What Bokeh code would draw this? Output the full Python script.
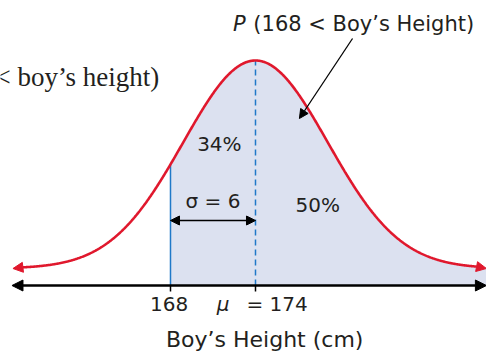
import numpy as np
from bokeh.plotting import figure
from bokeh.models import Arrow, NormalHead, Range1d
from bokeh.core.properties import value
from bokeh.embed import file_html
from bokeh.resources import INLINE

# ---- data -------------------------------------------------------------
mu = 174                 # mean height (cm)
sigma = 6                # standard deviation (cm)
lower_bound = 168        # P(168 < height)
curve_spread = 5.1       # drawn spread of the schematic bell (cm)
curve_peak = 208         # drawn peak height of the bell (px units)
curve_base = 17          # the bell's asymptote sits above the axis
x_start, x_end = 156.88, 190.3
tick_values = [168, 174]
tick_labels = ["168", "= 174"]
pct_values = ["34%", "50%"]
title_text = "(168 < Boy\u2019s Height)"
side_text = "P(168 < boy\u2019s height)"
axis_title = "Boy\u2019s Height (cm)"

RED = "#e0182d"
BLUE = "#1f78c8"
FILL = "#dce1f0"
INK = "#231f20"
FONT = value("DejaVu Sans")
DY = 9  # baseline correction for SVG text


def bell(x):
    return curve_base + curve_peak * np.exp(-((x - mu) ** 2) / (2 * curve_spread ** 2))


p = figure(width=486, height=355, output_backend="svg", toolbar_location=None,
           x_range=Range1d(156.0, 190.306), y_range=Range1d(-70, 285),
           min_border=0, outline_line_color=None, background_fill_color="white")
p.axis.visible = False
p.grid.visible = False

# shaded area P(168 < height)
xs_fill = np.linspace(lower_bound, x_end + 0.01, 400)
p.varea(x=xs_fill, y1=0, y2=bell(xs_fill), fill_color=FILL)

# vertical lines
p.segment(x0=[lower_bound], y0=[0], x1=[lower_bound], y1=[bell(lower_bound)],
          line_color=BLUE, line_width=1.5)
p.segment(x0=[mu], y0=[0], x1=[mu], y1=[bell(mu)],
          line_color=BLUE, line_width=1.5, line_dash="6 4")

# red bell curve with arrow ends
xs_c = np.linspace(x_start + 0.7, x_end - 0.7, 800)
p.line(xs_c, bell(xs_c), line_color=RED, line_width=2.6)
for xa, xb in [(xs_c[0], x_start), (xs_c[-1], x_end)]:
    p.add_layout(Arrow(end=NormalHead(size=10, fill_color=RED, line_color=RED),
                       x_start=xa, y_start=bell(xa), x_end=xb, y_end=curve_base,
                       line_color=RED, line_width=2.6))

# horizontal axis with arrows at both ends
p.add_layout(Arrow(start=NormalHead(size=11, fill_color="black", line_color="black"),
                   end=NormalHead(size=11, fill_color="black", line_color="black"),
                   x_start=x_start - 0.07, y_start=0, x_end=x_end, y_end=0,
                   line_color="black", line_width=2.6))
p.segment(x0=tick_values, y0=[0, 0], x1=tick_values, y1=[-6, -6],
          line_color="black", line_width=1.5)

# sigma double arrow
p.add_layout(Arrow(start=NormalHead(size=9, fill_color="black", line_color="black"),
                   end=NormalHead(size=9, fill_color="black", line_color="black"),
                   x_start=lower_bound, y_start=65, x_end=mu, y_end=65,
                   line_color="black", line_width=1.5))
p.text(x=[(lower_bound + mu) / 2], y=[76 + DY], text=["\u03c3 = 6"], text_font=FONT,
       text_font_size="20px", text_align="center", text_baseline="alphabetic",
       text_color=INK)

# percentage labels
p.text(x=[171.45, 178.4], y=[133 + DY, 72 + DY], text=pct_values, text_font=FONT,
       text_font_size="20px", text_align="center", text_baseline="alphabetic",
       text_color=INK)

# tick labels
p.text(x=[tick_values[0] - 0.1], y=[-27 + DY], text=[tick_labels[0]], text_font=FONT,
       text_font_size="20px", text_align="center", text_baseline="alphabetic",
       text_color=INK)
p.text(x=[mu - 2.28], y=[-27 + DY], text=["\u03bc"], text_font=FONT, text_font_style="italic",
       text_font_size="20px", text_align="center", text_baseline="alphabetic",
       text_color=INK)
p.text(x=[mu - 0.64], y=[-27 + DY], text=[tick_labels[1]], text_font=FONT,
       text_font_size="20px", text_align="left", text_baseline="alphabetic",
       text_color=INK)

# axis title
p.text(x=[174.65], y=[-63 + DY], text=[axis_title], text_font=FONT,
       text_font_size="22px", text_align="center", text_baseline="alphabetic",
       text_color=INK)

# top annotation with arrow
p.text(x=[172.42], y=[253 + DY], text=["P"], text_font=FONT, text_font_style="italic",
       text_font_size="21px", text_align="left", text_baseline="alphabetic",
       text_color=INK)
p.text(x=[173.85], y=[253 + DY], text=[title_text], text_font=FONT,
       text_font_size="21px", text_align="left", text_baseline="alphabetic",
       text_color=INK)
p.add_layout(Arrow(end=NormalHead(size=9, fill_color="black", line_color="black"),
                   x_start=180.85, y_start=247, x_end=177.1, y_end=167,
                   line_color="black", line_width=1.3))

# serif text at the far left, clipped by the edge as in the reference
p.text(x=[167.2], y=[200 + DY], text=[side_text], text_font=value("Liberation Serif"),
       text_font_size="27px", text_align="right", text_baseline="alphabetic",
       text_color=INK)

open("out.html", "w").write(file_html(p, INLINE))
